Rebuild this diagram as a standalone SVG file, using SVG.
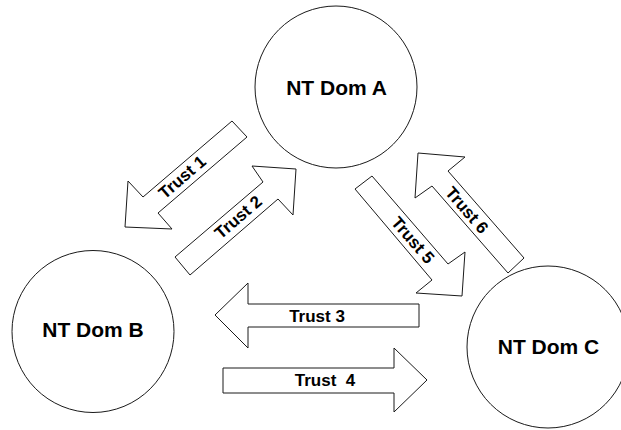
<svg xmlns="http://www.w3.org/2000/svg" width="621" height="430" viewBox="0 0 621 430">
<style>
.node{fill:#fff;stroke:#1a1a1a;stroke-width:1}
.arr{fill:#fff;stroke:#1a1a1a;stroke-width:1;stroke-linejoin:miter}
.nt{font-family:"Liberation Sans",Arial,sans-serif;font-weight:bold;font-size:21px;fill:#000;text-anchor:middle}
.lt{font-family:"Liberation Sans",Arial,sans-serif;font-weight:bold;font-size:17px;fill:#000;text-anchor:middle;white-space:pre}
</style>
<rect width="621" height="430" fill="#fff"/>
<g id="nodeA"><circle class="node" cx="336" cy="87" r="81"/><text class="nt" x="336.5" y="95">NT Dom A</text></g>
<g id="nodeB"><circle class="node" cx="93" cy="331.5" r="81"/><text class="nt" x="93" y="337">NT Dom B</text></g>
<g id="nodeC"><circle class="node" cx="548" cy="347" r="81"/><text class="nt" x="548.5" y="354">NT Dom C</text></g>
<g id="connectors">
<g id="trust1"><polygon class="arr" points="232,121 247,137 158,213 172,229 125,227 128,181 143,197"/><text class="lt" transform="translate(182,177) rotate(-40.6)" y="6">Trust 1</text></g>
<g id="trust2"><polygon class="arr" points="175,257 263,182 252,166 296,169 293,215 278,199 190,275"/><text class="lt" transform="translate(238,217) rotate(-40.5)" y="6">Trust 2</text></g>
<g id="trust3"><polygon class="arr" points="215,315 248,283 248,304 419,304 419,327 248,327 248,348"/><text class="lt" x="317" y="321.5">Trust 3</text></g>
<g id="trust4"><polygon class="arr" points="223,368 394,368 394,348 427,380 394,412 394,393 223,393"/><text class="lt" x="325" y="386" xml:space="preserve">Trust  4</text></g>
<g id="trust5"><polygon class="arr" points="372,176 448,264 465,252 462,296 416,293 432,280 355,189"/><text class="lt" transform="translate(413,240) rotate(49)" y="6">Trust 5</text></g>
<g id="trust6"><polygon class="arr" points="524,258 448,171 465,157 418,153 415,198 432,186 508,273"/><text class="lt" transform="translate(467,210) rotate(49)" y="6">Trust 6</text></g>
</g>
</svg>
